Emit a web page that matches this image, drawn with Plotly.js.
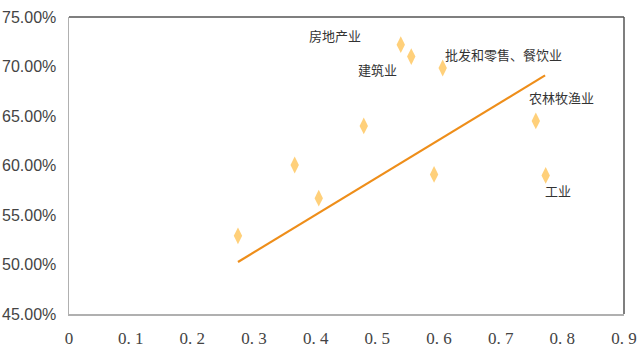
<!DOCTYPE html>
<html>
<head>
<meta charset="utf-8">
<script src="https://cdn.plot.ly/plotly-3.0.1.min.js"></script>
<style>html,body{margin:0;padding:0;background:#fff;}#chart{width:640px;height:356px;}</style>
</head>
<body>
<div id="chart"></div>
<script>
// data
const xValues = [0.274, 0.366, 0.405, 0.478, 0.538, 0.555, 0.606, 0.592, 0.757, 0.773];
const yValues = [52.9, 60.05, 56.7, 64.0, 72.2, 71.0, 69.85, 59.1, 64.5, 59.0];
const trendX = [0.274, 0.772];
const trendY = [50.25, 69.1];
const labelText = ["房地产业", "建筑业", "批发和零售、餐饮业", "农林牧渔业", "工业"];
const labelX = [0.431, 0.501, 0.704, 0.799, 0.793];
const labelY = [73.1, 69.7, 71.2, 66.9, 57.5];
const xTickVals = [0, 0.1, 0.2, 0.3, 0.4, 0.5, 0.6, 0.7, 0.8, 0.9];
const xTickText = ["0", "0. 1", "0. 2", "0. 3", "0. 4", "0. 5", "0. 6", "0. 7", "0. 8", "0. 9"];
const yTickVals = [45, 50, 55, 60, 65, 70, 75];
const yTickText = yTickVals.map(v => v.toFixed(2) + "%");

const traces = [
  {
    x: trendX, y: trendY, type: "scatter", mode: "lines",
    line: {color: "#EE8E1A", width: 2.2}, hoverinfo: "skip"
  },
  {
    x: xValues, y: yValues, type: "scatter", mode: "markers",
    marker: {symbol: "diamond-tall", size: 12, color: "#FFD07A", line: {width: 0}}
  }
];

const annotations = labelText.map((t, i) => ({
  x: labelX[i], y: labelY[i], xref: "x", yref: "y", text: t, showarrow: false,
  font: {family: "Noto Sans CJK SC", size: 13, color: "#333"}
}));

const layout = {
  width: 640, height: 356,
  margin: {l: 69, r: 16, t: 17, b: 42},
  paper_bgcolor: "#fff", plot_bgcolor: "#fff",
  showlegend: false,
  xaxis: {
    range: [0, 0.9], tickvals: xTickVals, ticktext: xTickText,
    showgrid: false, zeroline: false, showline: true, linecolor: "#b0b0b0", linewidth: 1.5,
    ticks: "", ticklen: 0, ticklabelstandoff: 8,
    tickfont: {family: "Liberation Serif", size: 17, color: "#444"}
  },
  yaxis: {
    range: [45, 75], tickvals: yTickVals, ticktext: yTickText,
    showgrid: false, zeroline: false, showline: true, linecolor: "#b0b0b0", linewidth: 1.5,
    ticks: "", ticklen: 0, ticklabelstandoff: 8,
    tickfont: {family: "Liberation Sans", size: 16, color: "#444"}
  },
  shapes: [
    {type: "line", xref: "paper", yref: "paper", x0: 0, x1: 1, y0: 1, y1: 1, line: {color: "#555", width: 1.5}},
    {type: "line", xref: "paper", yref: "paper", x0: 1, x1: 1, y0: 0, y1: 1, line: {color: "#555", width: 1.5}}
  ],
  annotations: annotations
};

Plotly.newPlot("chart", traces, layout, {displayModeBar: false, staticPlot: true});
</script>
</body>
</html>
